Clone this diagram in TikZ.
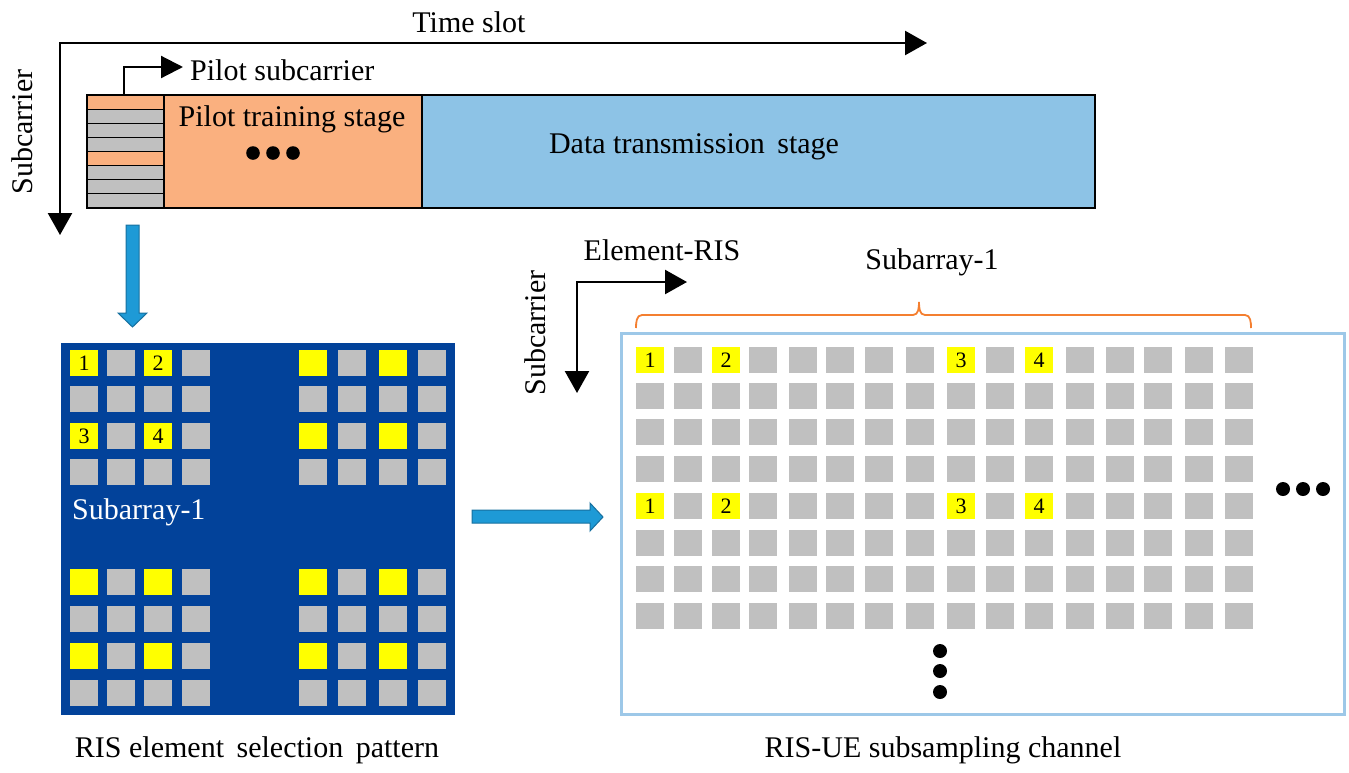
\documentclass[tikz,border=0pt]{standalone}
\usepackage{fontspec}
\setmainfont{Liberation Serif}
\usetikzlibrary{arrows.meta}
\definecolor{porange}{HTML}{FAB07F}
\definecolor{dblue}{HTML}{8DC3E6}
\definecolor{cellgray}{HTML}{C0C0C0}
\definecolor{panelblue}{HTML}{02429A}
\definecolor{frameblue}{HTML}{9DC8E8}
\definecolor{bracecol}{HTML}{F47F30}
\definecolor{yel}{HTML}{FFFF00}
\definecolor{barrow}{HTML}{1E9AD6}
\definecolor{barrowd}{HTML}{17709F}
\begin{document}
\begin{tikzpicture}[x=1pt,y=-1pt,
  font=\fontsize{30}{36}\selectfont,
  axis/.style={line width=2.5pt,{Triangle[length=22pt,width=24pt]}-{Triangle[length=22pt,width=24pt]}},
  oneaxis/.style={line width=2.2pt,-{Triangle[length=22pt,width=22pt]}},
  cell/.style={fill=cellgray,draw=none,minimum width=28pt,minimum height=26pt,inner sep=0pt,anchor=north west},
  ycell/.style={cell,fill=yel},
  numtxt/.style={font=\fontsize{22}{24}\selectfont,inner sep=0pt},
  blockarrow/.style={fill=barrow,draw=barrowd,line width=1pt},
  dot/.style={fill=black},
  bracestyle/.style={draw=bracecol,line width=1.8pt}]
\useasboundingbox (0,0) rectangle (1349,772);

% ---------- top frame ----------
\coordinate (o) at (60,43);
\coordinate (tsend) at (927,43);
\coordinate (scend) at (60,235);
\draw[axis] (scend) -- (o) -- (tsend);
\node (timeslot) at (469,22) {Time slot};
\node[rotate=90] (subc1) at (22,132) {Subcarrier};

% pilot column
\foreach \i in {0,...,7} {
  \pgfmathsetmacro\yt{95+\i*14.125}
  \pgfmathsetmacro\yb{95+(\i+1)*14.125}
  \pgfmathtruncatemacro\isor{(\i==0)+(\i==4)}
  \ifnum\isor=1
    \filldraw[fill=porange,draw=black,line width=1.2pt] (87,\yt) rectangle (164,\yb);
  \else
    \filldraw[fill=cellgray,draw=black,line width=1.2pt] (87,\yt) rectangle (164,\yb);
  \fi
}
\filldraw[fill=porange,draw=black,line width=1.4pt] (164,95) rectangle (422,208);
\filldraw[fill=dblue,draw=black,line width=1.4pt] (422,95) rectangle (1095,208);
\draw[line width=1.4pt] (87,95) rectangle (1095,208);

\coordinate (ps0) at (124,95);
\coordinate (ps1) at (183,67);
\draw[oneaxis] (ps0) |- (ps1);
\node[anchor=west,inner sep=0pt] (pilotsub) at (190,70) {Pilot subcarrier};
\node (ptrain) at (292,119) {Pilot training stage};
\foreach \x in {253,273,293} \fill[dot] (\x,153) circle (6.8);
\node (dtrans) at (694,147) {Data transmission\ \,stage};

% down block arrow
\filldraw[blockarrow] (126,225) -- (139,225) -- (139,313) -- (147,313) -- (132.5,327) -- (118,313) -- (126,313) -- cycle;

% ---------- left panel ----------
\fill[panelblue] (61,343) rectangle (455,715);
\foreach \r/\yy in {0/350,1/386,2/423,3/459,4/569,5/606,6/643,7/680} {
  \foreach \c/\xx in {0/70,1/107,2/144,3/182,4/299,5/338,6/379,7/418} {
    \pgfmathtruncatemacro\isy{(mod(\r,2)==0)*(mod(\c,2)==0)}
    \ifnum\isy=1
      \node[ycell] at (\xx,\yy) {};
    \else
      \node[cell] at (\xx,\yy) {};
    \fi
  }
}
\node[numtxt] (l1) at (84,363) {1};
\node[numtxt] (l2) at (158,363) {2};
\node[numtxt] (l3) at (84,436) {3};
\node[numtxt] (l4) at (158,436) {4};
\node[anchor=west,inner sep=0pt,text=white] (subl) at (72,512) {Subarray-1};

% right block arrow
\filldraw[blockarrow] (472,510) -- (590,510) -- (590,503) -- (603,517) -- (590,531) -- (590,523) -- (472,523) -- cycle;

% ---------- right panel ----------
\coordinate (er0) at (577,282);
\coordinate (er1) at (687,282);
\coordinate (er2) at (577,393);
\draw[axis] (er2) -- (er0) -- (er1);
\node (elris) at (662,250) {Element-RIS};
\node[rotate=90] (subc2) at (535,333) {Subcarrier};
\node (subr) at (932,262) {Subarray-1};

\draw[bracestyle] (636,328) to[out=90,in=180] (642,315) -- (913,315)
  to[out=0,in=-90] (919,302) to[out=-90,in=180] (925,315) -- (1245,315)
  to[out=0,in=90] (1251,328);

\draw[draw=frameblue,line width=3pt] (621,333) rectangle (1344,714);
\foreach \r/\yy in {0/347,1/383,2/419,3/456,4/493,5/530,6/566,7/603} {
  \foreach \c/\xx in {0/636,1/674,2/712,3/749,4/789,5/826,6/865,7/906,8/947,9/986,10/1025,11/1066,12/1106,13/1144,14/1185,15/1225} {
    \pgfmathtruncatemacro\isy{(mod(\r,4)==0)*((\c==0)+(\c==2)+(\c==8)+(\c==10))}
    \ifnum\isy=1
      \node[ycell] at (\xx,\yy) {};
    \else
      \node[cell] at (\xx,\yy) {};
    \fi
  }
}
\foreach \yy in {347,493} {
  \foreach \n/\xx in {1/636,2/712,3/947,4/1025} {
    \node[numtxt] at (\xx+14,\yy+13) {\n};
  }
}
\foreach \x in {1283,1303,1323} \fill[dot] (\x,489) circle (7);
\foreach \y in {651,671,692} \fill[dot] (940,\y) circle (7);

% ---------- captions ----------
\node (capl) at (257,750) {RIS element\ \,selection\ \,pattern};
\node (capr) at (943,750) {RIS-UE subsampling channel};
\end{tikzpicture}
\end{document}
